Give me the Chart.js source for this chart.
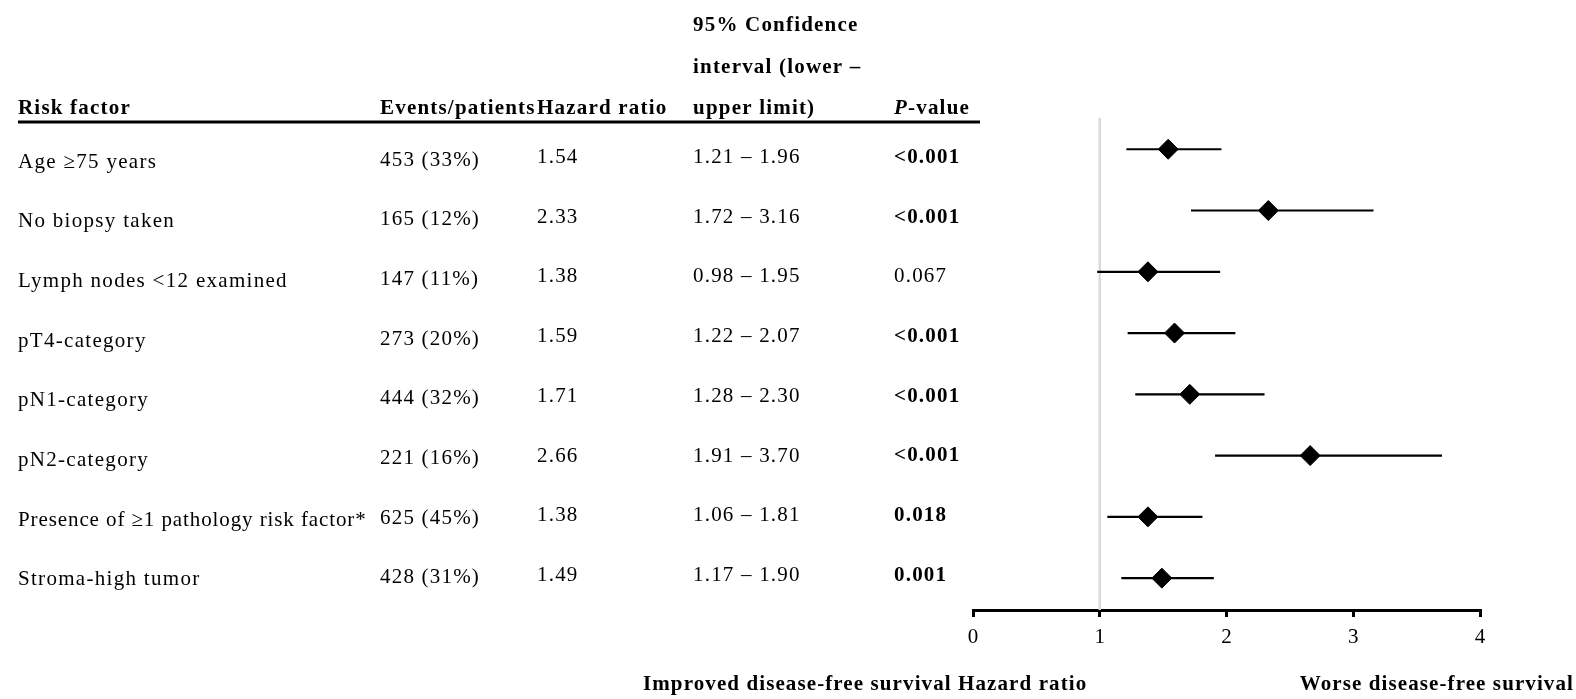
<!DOCTYPE html>
<html>
<head>
<meta charset="utf-8">
<script src="https://cdn.jsdelivr.net/npm/chart.js@4.4.1/dist/chart.umd.min.js"></script>
<style>
  html, body { margin: 0; padding: 0; background: #fff; }
  #wrap { width: 1576px; height: 699px; }
</style>
</head>
<body>
<div id="wrap"><canvas id="forest" width="1576" height="699"></canvas></div>
<script>
// Multivariable Cox regression results, one entry per risk factor
const riskFactors = [
  'Age \u226575 years',
  'No biopsy taken',
  'Lymph nodes <12 examined',
  'pT4-category',
  'pN1-category',
  'pN2-category',
  'Presence of \u22651 pathology risk factor*',
  'Stroma-high tumor'
];
const events = [453, 165, 147, 273, 444, 221, 625, 428];
const eventPct = [33, 12, 11, 20, 32, 16, 45, 31];
const hazardRatio = [1.54, 2.33, 1.38, 1.59, 1.71, 2.66, 1.38, 1.49];
const ciLower = [1.21, 1.72, 0.98, 1.22, 1.28, 1.91, 1.06, 1.17];
const ciUpper = [1.96, 3.16, 1.95, 2.07, 2.30, 3.70, 1.81, 1.90];
const pValues = ['<0.001', '<0.001', '0.067', '<0.001', '<0.001', '<0.001', '0.018', '0.001'];
const xTicks = [0, 1, 2, 3, 4];
const referenceHR = 1;

const SERIF = '"Liberation Serif", "Times New Roman", serif';
const Y_MIN = -0.51, Y_MAX = 7.52;

// Table geometry (text columns to the left of the plot)
const COL = { label: 18, events: 380, hr: 537, ci: 693, p: 894 };
const ROW_TOP = 160, ROW_STEP = 59.7;
const HEADER_Y = [26, 67.5, 109];
const RULE_Y = 122, RULE_END = 980;

function fontStr(size, bold, italic) {
  return (italic ? 'italic ' : '') + (bold ? 'bold ' : '') + size + 'px ' + SERIF;
}
function txt(ctx, s, x, y, opts) {
  opts = opts || {};
  ctx.font = fontStr(opts.size || 21, opts.bold, opts.italic);
  ctx.textAlign = opts.align || 'left';
  ctx.textBaseline = 'middle';
  ctx.letterSpacing = (opts.spacing != null ? opts.spacing : 1.2) + 'px';
  ctx.fillText(s, x, y);
  const w = ctx.measureText(s).width;
  ctx.letterSpacing = '0px';
  return w;
}

const tablePlugin = {
  id: 'forestTable',
  afterDraw(chart) {
    const ctx = chart.ctx;
    ctx.save();
    ctx.fillStyle = '#000';

    // column headers
    txt(ctx, '95% Confidence', COL.ci, HEADER_Y[0], { bold: true });
    txt(ctx, 'interval (lower \u2013', COL.ci, HEADER_Y[1], { bold: true });
    txt(ctx, 'Risk factor', COL.label, HEADER_Y[2], { bold: true });
    txt(ctx, 'Events/patients', COL.events, HEADER_Y[2], { bold: true });
    txt(ctx, 'Hazard ratio', COL.hr, HEADER_Y[2], { bold: true });
    txt(ctx, 'upper limit)', COL.ci, HEADER_Y[2], { bold: true });
    const pw = txt(ctx, 'P', COL.p, HEADER_Y[2], { bold: true, italic: true });
    txt(ctx, '-value', COL.p + pw, HEADER_Y[2], { bold: true });

    // header rule
    ctx.strokeStyle = '#000';
    ctx.lineWidth = 3;
    ctx.beginPath();
    ctx.moveTo(COL.label, RULE_Y);
    ctx.lineTo(RULE_END, RULE_Y);
    ctx.stroke();

    // table rows
    riskFactors.forEach((name, i) => {
      const y = ROW_TOP + ROW_STEP * i;
      txt(ctx, name, COL.label, y + 2, { spacing: i === 6 ? 0.9 : 1.3 });
      txt(ctx, events[i] + ' (' + eventPct[i] + '%)', COL.events, y);
      txt(ctx, hazardRatio[i].toFixed(2), COL.hr, y - 2.5);
      txt(ctx, ciLower[i].toFixed(2) + ' \u2013 ' + ciUpper[i].toFixed(2), COL.ci, y - 2.5);
      const pNum = parseFloat(pValues[i].replace('<', ''));
      txt(ctx, pValues[i], COL.p, y - 2.5, { bold: pNum < 0.05 });
    });

    // captions under the axis
    txt(ctx, 'Improved disease-free survival Hazard ratio', 643, 685, { bold: true, spacing: 1.1 });
    txt(ctx, 'Worse disease-free survival', 1574, 685, { bold: true, align: 'right', spacing: 1.1 });

    ctx.restore();
  }
};

const rowIndex = riskFactors.map((_, i) => i);
const whiskers = [];
rowIndex.forEach(i => {
  whiskers.push({ x: ciLower[i], y: i }, { x: ciUpper[i], y: i }, { x: null, y: null });
});
const estimates = rowIndex.map(i => ({ x: hazardRatio[i], y: i }));

new Chart(document.getElementById('forest'), {
  type: 'scatter',
  data: {
    datasets: [
      {
        type: 'scatter',
        data: estimates,
        pointStyle: 'rectRot',
        pointRadius: 10,
        pointBackgroundColor: '#000',
        pointBorderColor: '#000',
        pointBorderWidth: 1,
        order: 1
      },
      {
        type: 'line',
        data: whiskers,
        borderColor: '#000',
        borderWidth: 2.2,
        pointRadius: 0,
        spanGaps: false,
        fill: false,
        order: 2
      },
      {
        type: 'line',
        data: [{ x: referenceHR, y: Y_MIN }, { x: referenceHR, y: Y_MAX }],
        borderColor: '#d9d9d9',
        borderWidth: 2.5,
        pointRadius: 0,
        fill: false,
        clip: false,
        order: 3
      }
    ]
  },
  options: {
    responsive: false,
    animation: false,
    events: [],
    layout: { padding: { left: 973, right: 96, top: 118, bottom: 39 } },
    plugins: { legend: { display: false }, tooltip: { enabled: false } },
    scales: {
      x: {
        type: 'linear',
        position: 'bottom',
        min: xTicks[0],
        max: xTicks[xTicks.length - 1],
        afterBuildTicks: s => { s.ticks = xTicks.map(v => ({ value: v })); },
        afterFit: s => { s.height = 50; },
        ticks: { color: '#000', font: { family: SERIF, size: 21 }, padding: 8, maxRotation: 0 },
        grid: { drawOnChartArea: false, drawTicks: true, tickLength: 7, color: '#000', lineWidth: 3 },
        border: { display: true, color: '#000', width: 3 }
      },
      y: { type: 'linear', display: false, min: Y_MIN, max: Y_MAX, reverse: true }
    }
  },
  plugins: [tablePlugin]
});
</script>
</body>
</html>
